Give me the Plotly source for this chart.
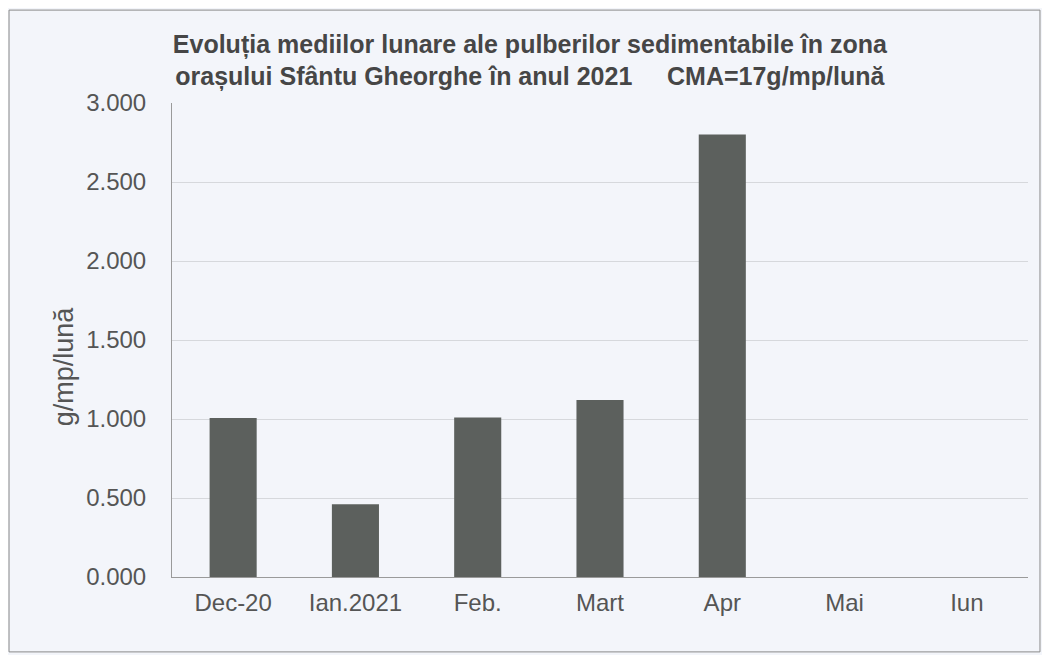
import plotly.graph_objects as go

MONTHS = ["Dec-20", "Ian.2021", "Feb.", "Mart", "Apr", "Mai", "Iun"]
VALUES = [1.006, 0.460, 1.010, 1.120, 2.800, 0, 0]
Y_TICKS = [0, 0.5, 1.0, 1.5, 2.0, 2.5, 3.0]

BAR_COLOR = "#5c605d"
TEXT_COLOR = "#555555"
FONT = "Liberation Sans, Arial, sans-serif"

fig = go.Figure(
    go.Bar(x=MONTHS, y=VALUES, marker=dict(color=BAR_COLOR, line=dict(width=0)), width=0.385)
)

fig.update_layout(
    width=1050,
    height=655,
    margin=dict(l=164, r=30, t=95, b=86),
    paper_bgcolor="#f3f5fa",
    plot_bgcolor="#f3f5fa",
    font=dict(family=FONT, color=TEXT_COLOR, size=24),
    showlegend=False,
    title=dict(
        text="<b>Evoluția mediilor lunare ale pulberilor sedimentabile în zona<br>"
        "orașului Sfântu Gheorghe în anul 2021\u00a0\u00a0\u00a0\u00a0\u00a0CMA=17g/mp/lună</b>",
        x=0.497,
        xanchor="center",
        y=0.932,
        yanchor="top",
        font=dict(family=FONT, size=25, color="#464646"),
    ),
)

fig.update_yaxes(
    range=[0, 3],
    tickvals=Y_TICKS,
    tickformat=".3f",
    showgrid=True,
    gridcolor="#d6d8dc",
    gridwidth=1,
    showline=True,
    linecolor="#9a9a9a",
    linewidth=1,
    ticklabelstandoff=20,
    zeroline=False,
    tickfont=dict(size=24),
)
fig.update_xaxes(
    showline=True,
    linecolor="#9a9a9a",
    linewidth=1,
    ticklabelstandoff=4,
    tickfont=dict(size=24),
)

# y axis title, placed a bit below the plot centre like the original
fig.add_annotation(
    text="g/mp/lună", textangle=-90, showarrow=False,
    xref="paper", yref="paper", x=-0.126, y=0.445,
    xanchor="center", yanchor="middle",
    font=dict(size=27, color=TEXT_COLOR),
)

# outer chart frame
fig.add_shape(
    type="rect", xref="paper", yref="paper",
    x0=-0.1904, x1=1.014, y0=-0.158, y1=1.196,
    line=dict(color="#8a8a8a", width=1),
)

fig.write_html("out.html")
